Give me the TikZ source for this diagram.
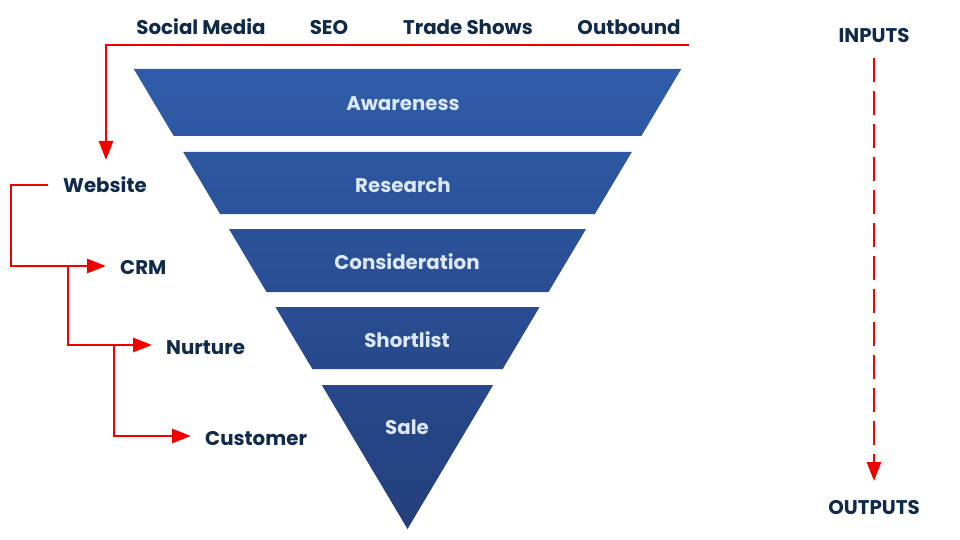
\documentclass[tikz,border=0pt]{standalone}
\usepackage{fontspec}
\setmainfont{Poppins}
\usetikzlibrary{arrows.meta}
\definecolor{navy}{HTML}{0F2A4A}
\definecolor{funtop}{HTML}{2F5CA9}
\definecolor{funbot}{HTML}{243F7C}
\definecolor{lbl}{HTML}{DCE8F8}
\definecolor{redl}{HTML}{F20000}
\begin{document}
\begin{tikzpicture}[x=1pt,y=-1pt,
  lab/.style={font=\bfseries\fontsize{19.8}{22}\selectfont, text=navy, inner sep=0},
  bandlab/.style={font=\bfseries\fontsize{19.8}{22}\selectfont, text=lbl, inner sep=0},
  redline/.style={draw=redl, line width=2.9pt},
  tip/.style={-{Triangle[length=19pt,width=14pt]}}]
\useasboundingbox (0,0) rectangle (960,540);
\fill[white] (0,0) rectangle (960,540);
% funnel
\shade[top color=funtop,bottom color=funbot]
  (133.8,69) -- (681.2,69) -- (641.3,136) -- (173.7,136) -- cycle
  (183.2,152) -- (631.8,152) -- (594.9,214) -- (220.1,214) -- cycle
  (229.0,229) -- (586.0,229) -- (548.5,292) -- (266.5,292) -- cycle
  (275.4,307) -- (539.6,307) -- (502.7,369) -- (312.3,369) -- cycle
  (321.8,385) -- (493.2,385) -- (407.5,529) -- cycle;
\node[bandlab,anchor=base] (aw) at (403,110.5) {Awareness};
\node[bandlab,anchor=base] (re) at (403,192.5) {Research};
\node[bandlab,anchor=base] (co) at (407,269) {Consideration};
\node[bandlab,anchor=base] (sh) at (407,347) {Shortlist};
\node[bandlab,anchor=base] (sa) at (407,434) {Sale};
% top inputs
\node[lab,anchor=base] (sm) at (201,35) {Social Media};
\node[lab,anchor=base] (seo) at (329,35) {SEO};
\node[lab,anchor=base] (ts) at (468,35) {Trade Shows};
\node[lab,anchor=base] (ob) at (629,35) {Outbound};
% left chain
\node[lab,anchor=base] (web) at (105,193) {Website};
\node[lab,anchor=base west] (crm) at (120,274) {CRM};
\node[lab,anchor=base west] (nur) at (166,354) {Nurture};
\node[lab,anchor=base west] (cus) at (205,445) {Customer};
% right
\node[lab,anchor=base] (inp) at (874,42.5) {INPUTS};
\node[lab,anchor=base] (outp) at (874,514) {OUTPUTS};
% red connectors
\coordinate (topR) at (689,45);
\coordinate (topL) at (106,45);
\coordinate (webTip) at (106,160);
\draw[redline,tip] (topR) -- (topL) -- (webTip);
\coordinate (webStart) at (48,185);
\coordinate (crmTip) at (106,266);
\draw[redline,tip] (webStart) -- (11,185) |- (crmTip);
\coordinate (b1) at (68,266);
\coordinate (nurTip) at (152,345);
\draw[redline,tip] (b1) |- (nurTip);
\coordinate (b2) at (114,345);
\coordinate (cusTip) at (191,436);
\draw[redline,tip] (b2) |- (cusTip);
% dashed inputs -> outputs
\coordinate (dStart) at (874,58);
\coordinate (dEnd) at (874,481);
\draw[redline,line width=2.6pt,dash pattern=on 24pt off 9pt,-{Triangle[length=19pt,width=14pt]}] (dStart) -- (dEnd);
\end{tikzpicture}
\end{document}
